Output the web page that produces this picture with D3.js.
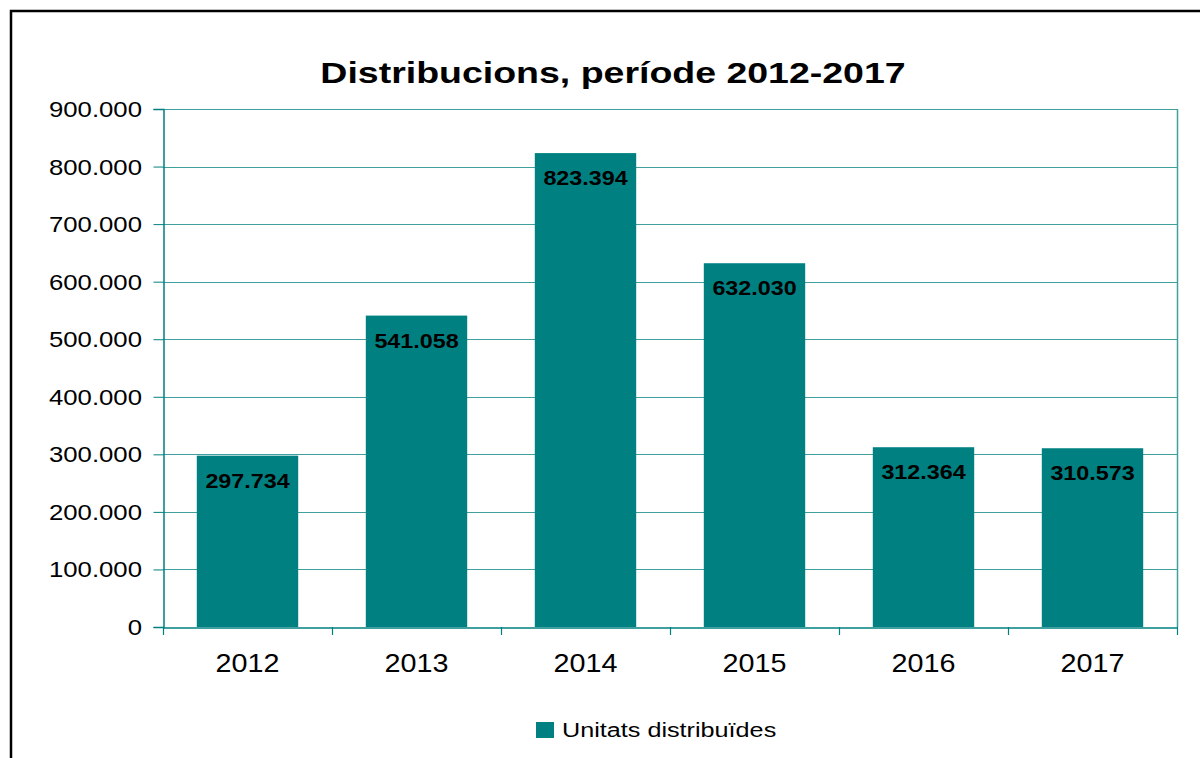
<!DOCTYPE html>
<html>
<head>
<meta charset="utf-8">
<script src="https://cdn.jsdelivr.net/npm/d3@7"></script>
<style>
  body { margin: 0; background: #fff; }
  svg { display: block; }
  text { font-family: "Liberation Sans", Arial, sans-serif; }
</style>
</head>
<body>
<svg id="chart" width="1200" height="758"></svg>
<script>
const categories = ["2012", "2013", "2014", "2015", "2016", "2017"];
const values = [297734, 541058, 823394, 632030, 312364, 310573];
const valueLabels = ["297.734", "541.058", "823.394", "632.030", "312.364", "310.573"];
const yTicks = [0, 100000, 200000, 300000, 400000, 500000, 600000, 700000, 800000, 900000];
const yTickLabels = ["0", "100.000", "200.000", "300.000", "400.000", "500.000", "600.000", "700.000", "800.000", "900.000"];
const title = "Distribucions, període 2012-2017";
const seriesName = "Unitats distribuïdes";

const teal = "#008080";
const gridColor = "#40a0a0";

const svg = d3.select("#chart");
const m = { left: 163, right: 1177, top: 109, bottom: 627 };

function stretchedText(g, x, y, txt, opts) {
  return g.append("text")
    .attr("transform", `translate(${x},${y}) scale(${opts.sx},1)`)
    .attr("text-anchor", opts.anchor || "start")
    .attr("font-size", opts.size)
    .attr("font-weight", opts.weight || "normal")
    .attr("fill", "#000")
    .text(txt);
}

// outer border
svg.append("rect").attr("x", 11).attr("y", 11).attr("width", 1200).attr("height", 800)
  .attr("fill", "none").attr("stroke", "#000").attr("stroke-width", 2.5);

const x = d3.scaleBand().domain(categories).range([m.left, m.right]).paddingInner(0.4).paddingOuter(0.2);
const xb = d3.scaleBand().domain(categories).range([m.left, m.right]);
const y = d3.scaleLinear().domain([0, 900000]).range([m.bottom, m.top]);

// gridlines
svg.append("g").selectAll("line").data(yTicks.slice(1)).join("line")
  .attr("x1", m.left).attr("x2", m.right)
  .attr("y1", d => Math.round(y(d)) + 0.5).attr("y2", d => Math.round(y(d)) + 0.5)
  .attr("stroke", gridColor).attr("stroke-width", 1);

// right border of plot
svg.append("line").attr("x1", m.right + 0.5).attr("x2", m.right + 0.5)
  .attr("y1", m.top).attr("y2", m.bottom).attr("stroke", gridColor).attr("stroke-width", 1.5);

// bars
svg.append("g").selectAll("rect").data(values).join("rect")
  .attr("x", (d, i) => x(categories[i]))
  .attr("width", x.bandwidth())
  .attr("y", d => y(d))
  .attr("height", d => m.bottom - y(d))
  .attr("fill", teal);

// data labels
const gl = svg.append("g");
values.forEach((d, i) => {
  stretchedText(gl, x(categories[i]) + x.bandwidth() / 2, y(d) + 32, valueLabels[i],
    { sx: 1.11, size: 21, weight: "bold", anchor: "middle" });
});

// y axis (line + ticks via d3 axis, labels drawn stretched)
const yAxis = d3.axisLeft(y).tickValues(yTicks).tickFormat("").tickSize(10);
const gy = svg.append("g").attr("transform", `translate(${m.left + 0.5},0)`).call(yAxis);
gy.select(".domain").attr("stroke", teal).attr("stroke-width", 1.5);
gy.selectAll(".tick line").attr("stroke", teal);
const gyl = svg.append("g");
yTicks.forEach((t, i) => {
  stretchedText(gyl, 142, y(t) + 8, yTickLabels[i], { sx: 1.17, size: 22, anchor: "end" });
});

// x axis
const xAxis = d3.axisBottom(xb).tickSize(0).tickFormat("");
const gx = svg.append("g").attr("transform", `translate(0,${m.bottom + 0.5})`).call(xAxis);
gx.select(".domain").attr("stroke", teal).attr("stroke-width", 1.5);
const bounds = categories.map(c => xb(c)).concat([m.right]);
svg.append("g").selectAll("line").data(bounds).join("line")
  .attr("x1", d => Math.round(d) + 0.5).attr("x2", d => Math.round(d) + 0.5)
  .attr("y1", m.bottom).attr("y2", m.bottom + 8)
  .attr("stroke", teal).attr("stroke-width", 1.2);
const gxl = svg.append("g");
categories.forEach(c => {
  stretchedText(gxl, xb(c) + xb.bandwidth() / 2, 672, c, { sx: 1.15, size: 25, anchor: "middle" });
});

// title
stretchedText(svg, 613, 83, title, { sx: 1.25, size: 30, weight: "bold", anchor: "middle" });

// legend
svg.append("rect").attr("x", 536).attr("y", 722).attr("width", 18).attr("height", 16).attr("fill", teal);
stretchedText(svg, 562, 737, seriesName, { sx: 1.2, size: 21 });
</script>
</body>
</html>
